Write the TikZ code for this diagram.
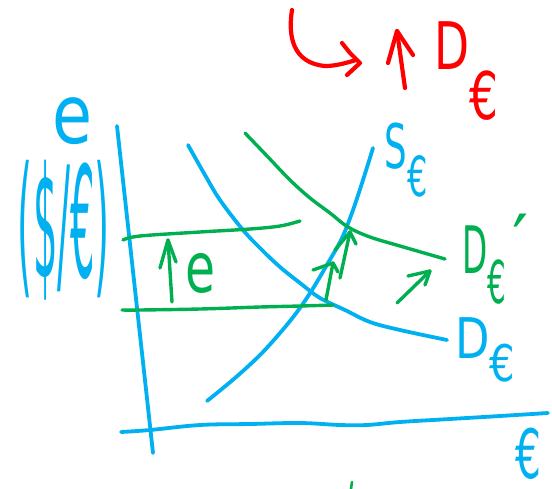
\documentclass[tikz,border=0pt]{standalone}
\usepackage{graphicx}
\usepackage{fontspec}
\setmainfont{DejaVu Sans}
\definecolor{penblue}{RGB}{0,176,240}
\definecolor{pengreen}{RGB}{0,176,80}
\definecolor{penred}{RGB}{255,0,0}
\newcommand{\fitbox}[3]{\resizebox*{#1}{#2}{#3}}
\begin{document}
\begin{tikzpicture}[x=1pt,y=-1pt,
  pen/.style={line width=3.8pt,line cap=round,line join=round},
  bl/.style={pen,draw=penblue},
  gr/.style={pen,draw=pengreen,line width=3.4pt},
  rd/.style={pen,draw=penred,line width=4.2pt},
  lab/.style={inner sep=0pt,outer sep=0pt}]
\useasboundingbox (0,0) rectangle (552,488);
% axes
\draw[bl] (117,126) -- (153,453);
\draw[bl] plot[smooth,tension=0.6] coordinates {(121,432) (150,430) (200,425) (250,424) (300,423) (340,425) (367,425) (400,422) (450,419) (500,416) (548,413)};
% supply
\draw[bl] plot[smooth,tension=0.6] coordinates {(207,401) (235,378) (260,355) (280,333) (297,312) (312,290) (328,263) (342,238) (353,210) (363,180) (373,148)};
% demand
\draw[bl] plot[smooth,tension=0.6] coordinates {(188,145) (205,175) (220,200) (243,230) (262,250) (280,267) (300,283) (320,298) (345,310) (370,322) (400,330) (447,340)};
% new demand
\draw[gr] plot[smooth,tension=0.6] coordinates {(245,133) (268,157) (290,180) (310,198) (330,213) (348,227) (370,237) (400,246) (445,259)};
% exchange-rate levels
\draw[gr] plot[smooth,tension=0.6] coordinates {(123,240) (140,236) (200,232) (250,229) (280,226) (300,221)};
\draw[gr] plot[smooth,tension=0.6] coordinates {(122,310) (140,310) (200,309) (260,307) (300,306) (333,305)};
% green arrows
\coordinate (ua0) at (172,302); \coordinate (ua1) at (168,240);
\draw[gr] (ua0) -- (ua1);
\draw[gr] (160,268) -- (ua1) -- (176,262);
\coordinate (pa0) at (326,300); \coordinate (pa1) at (333,263);
\draw[gr] (pa0) -- (pa1);
\draw[gr] (313,270) -- (pa1) -- (338,272);
\coordinate (pb0) at (340,278); \coordinate (pb1) at (350,232);
\draw[gr] (pb0) -- (pb1);
\draw[gr] (335,250) -- (pb1) -- (356,244);
\coordinate (da0) at (397,303); \coordinate (da1) at (430,271);
\draw[gr] (da0) -- (da1);
\draw[gr] (408,276) -- (da1) -- (425,285);
\draw[gr,line width=2.6pt] (352,482) -- (351,489);
% red annotation
\draw[rd] (292,10) .. controls (288,35) and (292,63) .. (325,66) .. controls (336,66) and (346,63) .. (356,60);
\draw[rd] (342,43) -- (350,53) -- (360,63) -- (347,75);
\coordinate (ra0) at (405,88); \coordinate (ra1) at (397,31);
\draw[rd] (ra0) -- (ra1);
\draw[rd] (388,63) -- (ra1) -- (413,55);
\node[lab,text=penred] (redD) at (466,71) {\fitbox{64pt}{98pt}{D\raisebox{-0.75em}{€}}};
% labels
\node[lab,text=penblue] (elab) at (72,121) {\fitbox{40pt}{47pt}{e}};
\node[lab,text=penblue] (unit) at (64,230) {\fitbox{92pt}{140pt}{(\$/€)}};
\node[lab,text=penblue] (slab) at (406,160) {\fitbox{43pt}{74pt}{S\raisebox{-0.45em}{\small €}}};
\node[lab,text=pengreen] (dplab) at (484,265) {\fitbox{44pt}{78pt}{D\raisebox{-0.45em}{\small €}}};
\node[lab,text=pengreen,anchor=north] (prime) at (521,214) {\fontsize{72}{72}\selectfont ′};
\node[lab,text=penblue] (dlab) at (485,350) {\fitbox{60pt}{64pt}{D\raisebox{-0.4em}{\small €}}};
\node[lab,text=penblue,anchor=base] (eur) at (528,478) {\scalebox{0.6}[1]{\fontsize{68}{68}\selectfont €}};
\node[lab,text=pengreen] (ge) at (200,273) {\fitbox{30pt}{40pt}{e}};
\end{tikzpicture}
\end{document}
